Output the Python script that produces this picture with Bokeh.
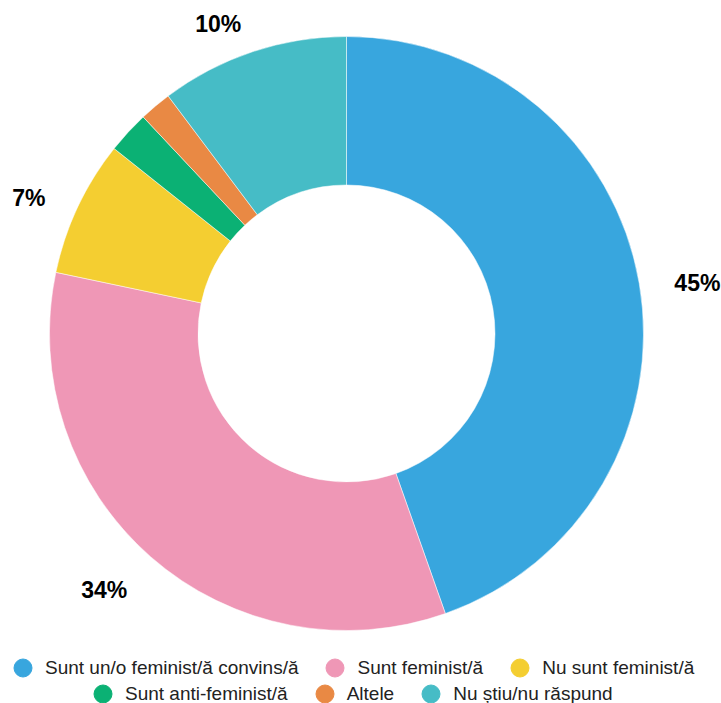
import math
from bokeh.plotting import figure
from bokeh.models import ColumnDataSource, Range1d, Legend, LegendItem
from bokeh.core.properties import value
from bokeh.embed import file_html
from bokeh.resources import INLINE

categories = ["Sunt un/o feminist/ă convins/ă", "Sunt feminist/ă", "Nu sunt feminist/ă",
              "Sunt anti-feminist/ă", "Altele", "Nu știu/nu răspund"]
shares = [44.6, 33.7, 7.4, 2.3, 1.75, 10.25]
colors = ["#38a6de", "#ef97b6", "#f4ce31", "#0bb174", "#e98944", "#46bcc6"]

W, H = 721, 703
CX, CY, RPX = 346, 333, 297  # layout in pixels

p = figure(width=W, height=H, output_backend="svg", toolbar_location=None, tools="",
           x_range=Range1d(-CX / RPX, (W - CX) / RPX),
           y_range=Range1d(-(H - CY) / RPX, CY / RPX),
           x_axis_location=None, y_axis_location=None,
           min_border=0, outline_line_color=None)
p.xgrid.visible = False
p.ygrid.visible = False

total = sum(shares)
starts, ends, mids = [], [], []
cum = 0.0
for v in shares:
    a0 = math.pi / 2 - 2 * math.pi * cum / total
    cum += v
    a1 = math.pi / 2 - 2 * math.pi * cum / total
    starts.append(a0)
    ends.append(a1)
    mids.append((a0 + a1) / 2)

src = ColumnDataSource(dict(start=starts, end=ends, color=colors, cat=categories))
p.annular_wedge(x=0, y=0, inner_radius=0.5, outer_radius=1.0, start_angle="start",
                end_angle="end", direction="clock", fill_color="color", line_color="white",
                line_width=0.5, source=src)

# data labels (only for larger slices)
lx, ly, lt, la = [], [], [], []
for v, m in zip(shares, mids):
    if v < 5:
        continue
    r = 1.12
    x = r * math.cos(m)
    y = r * math.sin(m)
    lx.append(x)
    ly.append(y)
    lt.append(f"{round(v)}%")
    la.append("left" if x > 0.05 else ("right" if x < -0.05 else "center"))
lsrc = ColumnDataSource(dict(x=lx, y=ly, t=lt, a=la))
p.text(x="x", y="y", text="t", text_align="a", text_baseline="middle", y_offset=6,
       text_font=value("Liberation Sans"), text_font_style="bold",
       text_font_size="23px", text_color="#000000", source=lsrc)

# legend
nan = float("nan")
rends = []
for c in colors:
    rends.append(p.scatter(x=[nan], y=[nan], marker="circle", size=18,
                           fill_color=c, line_color=c))

def make_legend(idx, loc):
    items = [LegendItem(label=categories[i], renderers=[rends[i]]) for i in idx]
    return Legend(items=items, orientation="horizontal", location=loc,
                  glyph_width=45, glyph_height=45, label_standoff=-2, spacing=14,
                  padding=0, margin=0, border_line_alpha=0, background_fill_alpha=0,
                  label_text_font="Liberation Sans", label_text_font_size="19px",
                  label_text_color="#222222")

p.add_layout(make_legend([0, 1, 2], (0, 13)))
p.add_layout(make_legend([3, 4, 5], (80, -13)))

open("out.html", "w").write(file_html(p, INLINE))
